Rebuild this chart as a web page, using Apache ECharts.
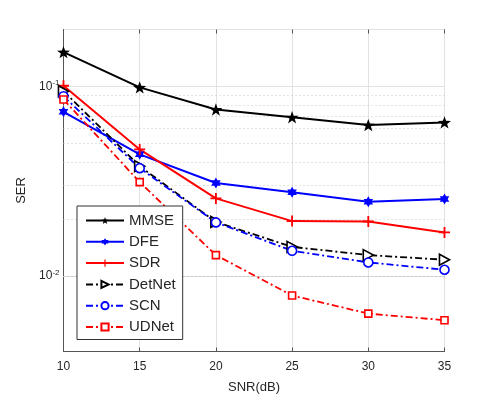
<!DOCTYPE html>
<html>
<head>
<meta charset="utf-8">
<title>SER vs SNR</title>
<script src="https://cdn.jsdelivr.net/npm/echarts@6/dist/echarts.min.js"></script>
<style>
  html, body { margin: 0; padding: 0; background: #fff; }
  #chart { width: 491px; height: 395px; }
</style>
</head>
<body>
<div id="chart"></div>
<script>
// SNR (dB) points
const snr = [10, 15, 20, 25, 30, 35]

// SER per detector
const mmse   = [0.152, 0.099, 0.0757, 0.0689, 0.0626, 0.0647]
const dfe    = [0.0736, 0.0439, 0.0310, 0.0277, 0.0247, 0.0255]
const sdr    = [0.101, 0.0466, 0.0257, 0.0195, 0.0194, 0.0170]
const detnet = [0.0945, 0.0380, 0.0193, 0.01426, 0.0129, 0.0122]
const scn    = [0.0889, 0.0371, 0.0192, 0.0136, 0.0118, 0.0108]
const udnet  = [0.0855, 0.0313, 0.0129, 0.0079, 0.00634, 0.00585]

// dotted minor grid (2..9 x decade)
const minorTicks = [0.005, 0.006, 0.007, 0.008, 0.009,
  0.02, 0.03, 0.04, 0.05, 0.06, 0.07, 0.08, 0.09]

const font = 'Liberation Sans, Arial, Helvetica, sans-serif'
const starPath = 'path://M0,-10L2.35,-3.24L9.51,-3.09L3.8,1.24L5.88,8.09L0,4L-5.88,8.09L-3.8,1.24L-9.51,-3.09L-2.35,-3.24Z'
const hexPath = 'path://M0,-10L8.66,5L-8.66,5ZM0,10L-8.66,-5L8.66,-5Z'
const plusPath = 'path://M-1,-6L1,-6L1,-1L6,-1L6,1L1,1L1,6L-1,6L-1,1L-6,1L-6,-1L-1,-1Z'
const triPath = 'path://M-5,-6L6,0L-5,6Z'
const dashDot = [7, 3, 2, 3]

const pairs = (ys) => snr.map((x, i) => [x, ys[i]])

const mkSeries = (name, ys, color, symbol, size, dashed, hollow) => ({
  name: name,
  type: 'line',
  data: pairs(ys),
  symbol: symbol,
  symbolSize: size,
  symbolKeepAspect: true,
  showAllSymbol: true,
  lineStyle: { color: color, width: dashed ? 1.8 : 2, type: dashed ? dashDot : 'solid' },
  itemStyle: {
    color: hollow ? '#fff' : color,
    borderColor: color,
    borderWidth: hollow ? 1.6 : 0
  },
  emphasis: { disabled: true },
  z: 3
})

const chart = echarts.init(document.getElementById('chart'))

const series = [
  mkSeries('MMSE', mmse, '#000000', starPath, 13, false, false),
  mkSeries('DFE', dfe, '#0000ff', hexPath, 11, false, false),
  mkSeries('SDR', sdr, '#ff0000', plusPath, 11, false, false),
  mkSeries('DetNet', detnet, '#000000', triPath, 11, true, true),
  mkSeries('SCN', scn, '#0000ff', 'circle', 9, true, true),
  mkSeries('UDNet', udnet, '#ff0000', 'rect', 7, true, true)
]

// minor grid lines drawn through the y scale
series[0].markLine = {
  silent: true,
  symbol: 'none',
  label: { show: false },
  lineStyle: { color: '#c8c8c8', type: [1, 3], width: 1 },
  data: minorTicks.map(v => ({ yAxis: v })),
  z: 1
}

const axisTickStyle = { show: true, inside: true, length: 4, lineStyle: { color: '#555' } }

const logLabel = function (v) {
  const e = Math.log10(v)
  if (Math.abs(e - Math.round(e)) > 1e-6) return ''
  return '10{sup|' + Math.round(e) + '}'
}

chart.setOption({
  backgroundColor: '#fff',
  animation: false,
  textStyle: { fontFamily: font },
  grid: {
    left: 63.5,
    right: 46.5,
    top: 29.5,
    bottom: 43.5,
    outerBoundsMode: 'none',
    containLabel: false,
    show: true,
    borderColor: '#555',
    borderWidth: 1,
    backgroundColor: 'transparent'
  },
  legend: {
    orient: 'vertical',
    left: 77,
    top: 206,
    padding: [7, 7, 5, 8],
    backgroundColor: '#fff',
    borderColor: '#333',
    borderWidth: 1,
    borderRadius: 0,
    itemWidth: 38,
    itemHeight: 9,
    itemGap: 6.3,
    textStyle: { fontSize: 15, color: '#262626', fontFamily: font, lineHeight: 15 },
    data: ['MMSE', 'DFE', 'SDR', 'DetNet', 'SCN', 'UDNet']
  },
  xAxis: [{
    type: 'value',
    min: 10,
    max: 35,
    interval: 5,
    name: 'SNR(dB)',
    nameLocation: 'middle',
    nameGap: 29,
    nameTextStyle: { fontSize: 13, color: '#262626' },
    axisLine: { show: true, lineStyle: { color: '#555' } },
    axisTick: axisTickStyle,
    axisLabel: { fontSize: 12, color: '#262626', margin: 9 },
    splitLine: { show: true, lineStyle: { color: '#e2e2e2', width: 1 } }
  }, {
    type: 'value',
    position: 'top',
    min: 10,
    max: 35,
    interval: 5,
    axisLine: { show: false },
    axisTick: axisTickStyle,
    axisLabel: { show: false },
    splitLine: { show: false }
  }],
  yAxis: [{
    type: 'log',
    logBase: 10,
    min: 0.004,
    max: 0.2,
    name: 'SER',
    nameLocation: 'middle',
    nameRotate: 90,
    nameGap: 33,
    nameTextStyle: { fontSize: 13, color: '#262626' },
    axisLine: { show: true, lineStyle: { color: '#555' } },
    axisTick: { show: false },
    axisLabel: {
      margin: 4,
      color: '#262626',
      fontSize: 12,
      formatter: logLabel,
      rich: {
        sup: { fontSize: 8, color: '#262626', verticalAlign: 'bottom', padding: [0, 0, 7, 0] }
      }
    },
    splitLine: { show: true, lineStyle: { color: '#e2e2e2', width: 1 } }
  }, {
    type: 'log',
    logBase: 10,
    min: 0.004,
    max: 0.2,
    position: 'right',
    axisLine: { show: false },
    axisTick: { show: false },
    axisLabel: { show: false },
    splitLine: { show: false }
  }],
  series: series
})
</script>
</body>
</html>
